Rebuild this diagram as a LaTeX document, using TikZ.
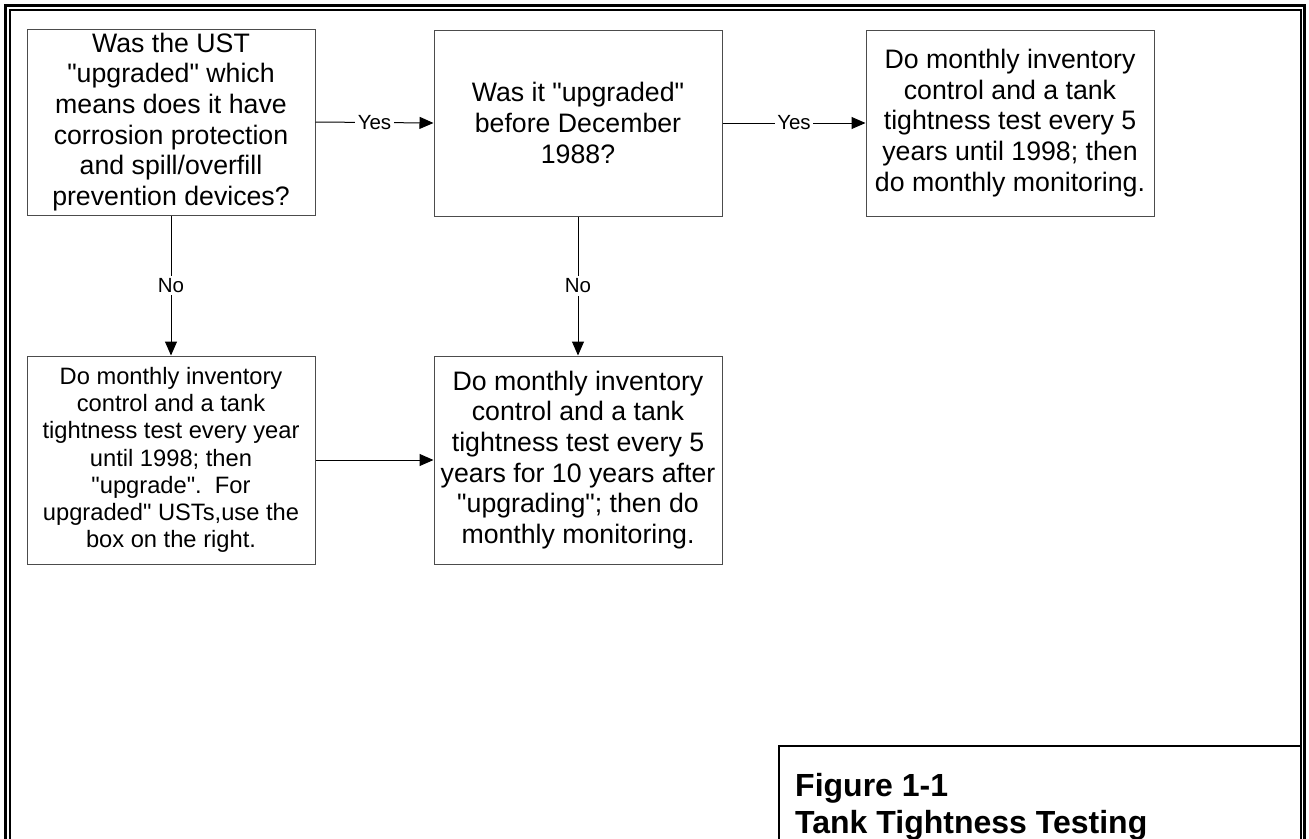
\documentclass[tikz,border=0pt]{standalone}
\usepackage{fontspec}
\setmainfont{Liberation Sans}
\usetikzlibrary{calc,positioning,arrows.meta}
\newcommand{\qq}{\textquotedbl}

\begin{document}
\begin{tikzpicture}[x=1pt, y=-1pt,
		box/.style={draw=black!70, line width=1pt, minimum width=288pt, inner sep=0pt, align=center, font=\fontsize{26.7}{30.7}\selectfont},
		topbox/.style={box, minimum height=186pt},
		lowbox/.style={box, minimum height=208pt},
		flow/.style={-{Triangle[length=14pt, width=12pt]}, line width=1pt},
		lbl/.style={fill=white, inner sep=2.5pt, font=\fontsize{20.5}{24}\selectfont}]
	\clip (0, 0) rectangle (1309, 838);

	% double frame round the page, open at the bottom
	\draw[line width=3pt] (5.5, 5.5) rectangle (1304, 880);
	\draw[line width=2pt] (9.8, 9.5) rectangle (1300.8, 880);

	% question and answer boxes
	\node[topbox] at (171, 122) (upg) {Was the UST\\\qq upgraded\qq{} which\\means does it have\\corrosion protection\\and spill/overfill\\prevention devices?};
	\node[topbox] at (578, 123) (before88) {Was it \qq upgraded\qq\\before December\\1988?};
	\node[topbox] at (1010, 123) (fiveyr) {Do monthly inventory\\control and a tank\\tightness test every 5\\years until 1998; then\\do monthly monitoring.};
	\node[lowbox, font=\fontsize{23.7}{27.2}\selectfont] at (171, 460) (yearly) {Do monthly inventory\\control and a tank\\tightness test every year\\until 1998; then\\\qq upgrade\qq.\ \ For\\upgraded\qq{} USTs,use the\\box on the right.};
	\node[lowbox] at (578, 460) (tenyr) {Do monthly inventory\\control and a tank\\tightness test every 5\\years for 10 years after\\\qq upgrading\qq; then do\\monthly monitoring.};

	\draw[flow] (upg.east) -- node[lbl] (yes1) {Yes} (before88.west);
	\draw[flow] (before88.east) -- node[lbl] (yes2) {Yes} (fiveyr.west);
	\draw[flow] (upg.south) -- node[lbl] (no1) {No} (yearly.north);
	\draw[flow] (before88.south) -- node[lbl] (no2) {No} (tenyr.north);
	\draw[flow] (yearly.east) -- (tenyr.west);

	% caption box
	\coordinate (captl) at (779, 746);
	\coordinate (capbr) at (1300.8, 880);
	\draw[line width=2pt] (captl) rectangle (capbr);
	\node[anchor=north west, inner sep=0pt, align=left, font=\fontsize{32}{37}\selectfont\bfseries] at (795, 773) (caption) {Figure 1-1\\Tank Tightness Testing};
\end{tikzpicture}
\end{document}
